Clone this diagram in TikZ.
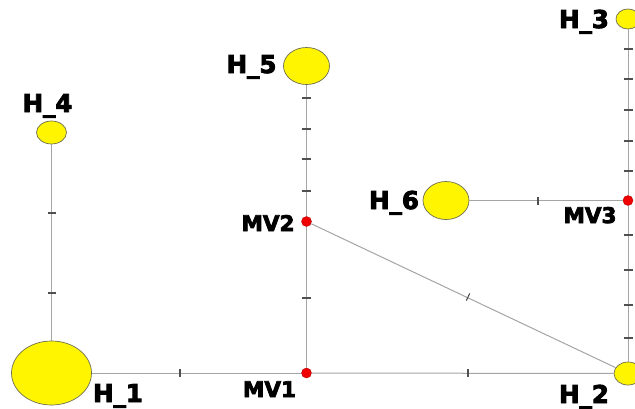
\documentclass[tikz,border=0pt]{standalone}
\usepackage{fontspec}
\setmainfont{DejaVu Sans}
\newfontfamily\heavyfont{DejaVu Sans}[UprightFont={* Bold}, FakeBold=3.5]
\usetikzlibrary{shapes.geometric}
\definecolor{hyellow}{RGB}{255,245,0}
\definecolor{hedge}{RGB}{110,110,80}
\definecolor{mvred}{RGB}{240,0,0}
\definecolor{linegray}{RGB}{165,165,165}
\definecolor{tickgray}{RGB}{80,80,80}
\tikzset{
  hub/.style={ellipse, fill=hyellow, draw=hedge, line width=0.7pt, inner sep=0pt},
  valve/.style={circle, fill=mvred, draw=red!70!black, line width=0.4pt, inner sep=0pt, minimum size=10pt},
  hlabel/.style={font=\heavyfont\fontsize{24.5}{25}\selectfont, anchor=base, inner sep=0pt},
  mvlabel/.style={font=\heavyfont\fontsize{21.5}{22}\selectfont, anchor=base, inner sep=0pt},
  pipe/.style={draw=linegray, line width=1pt},
  tickmark/.style={draw=tickgray, line width=1.1pt}
}
\begin{document}
\begin{tikzpicture}[x=1pt,y=-1pt]
\useasboundingbox (0,0) rectangle (635,408);
\clip (0,0) rectangle (635,408);
\fill[white] (0,0) rectangle (635,408);
% hubs
\node[hub, minimum width=80pt, minimum height=64pt] (h1) at (51.5,373) {};
\node[hub, minimum width=28pt, minimum height=23pt] (h2) at (628,373.5) {};
\node[hub, minimum width=24pt, minimum height=20pt] (h3) at (628,19) {};
\node[hub, minimum width=30pt, minimum height=23pt] (h4) at (51.5,132.5) {};
\node[hub, minimum width=46pt, minimum height=37pt] (h5) at (306.5,66) {};
\node[hub, minimum width=46pt, minimum height=38pt] (h6) at (446,200.5) {};
% valves
\node[valve] (mv1) at (306.5,373) {};
\node[valve] (mv2) at (306.5,221.5) {};
\node[valve] (mv3) at (628,200.5) {};
% pipes
\draw[pipe] (h4) -- (h1);
\draw[pipe] (h1) -- (mv1);
\draw[pipe] (mv1) -- (h2);
\draw[pipe] (mv1) -- (mv2);
\draw[pipe] (mv2) -- (h5);
\draw[pipe] (mv2) -- (h2);
\draw[pipe] (h6) -- (mv3);
\draw[pipe] (mv3) -- (h3);
\draw[pipe] (mv3) -- (h2);
% ticks
\foreach \y in {213,293} \draw[tickmark] (51.5,\y) ++(-4,0) -- ++(8,0);
\foreach \y in {98,129,159,191,298} \draw[tickmark] (306.5,\y) ++(-4.5,0) -- ++(9,0);
\foreach \y in {49,79,110,141,171,235,270,305,338} \draw[tickmark] (628,\y) ++(-4.5,0) -- ++(9,0);
\foreach \x in {180,468} \draw[tickmark] (\x,373) ++(0,-4) -- ++(0,8);
\draw[tickmark] (538,200.5) ++(0,-4) -- ++(0,8);
\draw[tickmark] (468,297) ++(-1.7,3.6) -- ++(3.4,-7.2);
% labels
\node[hlabel] (l1) at (118,402) {H\_1};
\node[hlabel] (l2) at (584,403) {H\_2};
\node[hlabel] (l3) at (584,28) {H\_3};
\node[hlabel] (l4) at (47.5,112) {H\_4};
\node[hlabel] (l5) at (251.5,73) {H\_5};
\node[hlabel] (l6) at (394,209) {H\_6};
\node[mvlabel] (lm1) at (269.5,397) {MV1};
\node[mvlabel] (lm2) at (268,231) {MV2};
\node[mvlabel] (lm3) at (590,223) {MV3};
\end{tikzpicture}
\end{document}
